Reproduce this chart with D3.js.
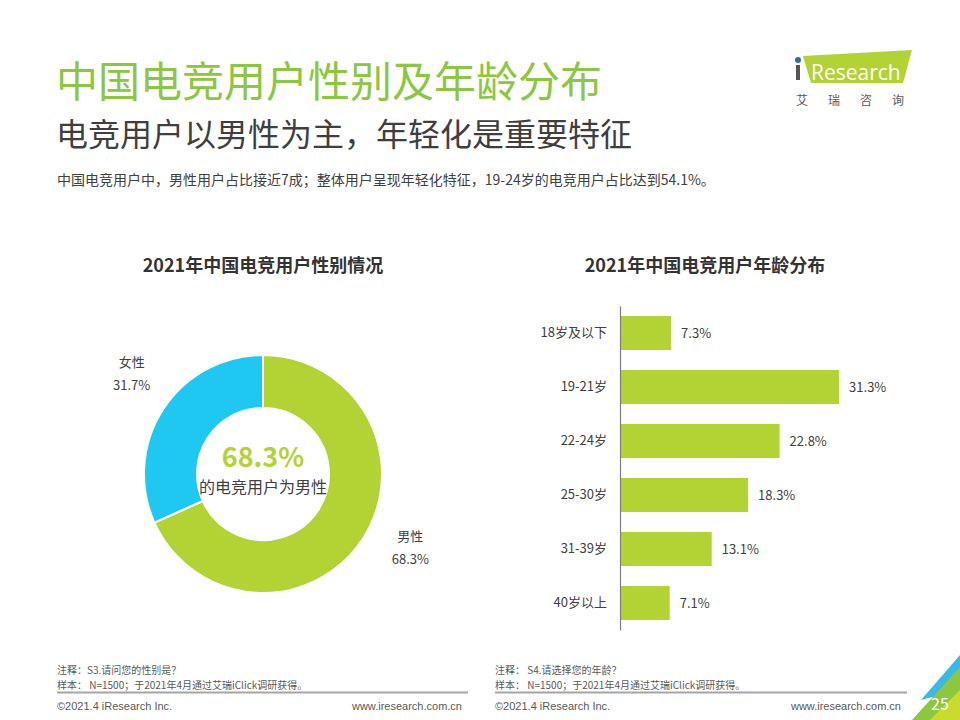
<!DOCTYPE html>
<html>
<head>
<meta charset="utf-8">
<script src="https://cdn.jsdelivr.net/npm/d3@7"></script>
<style>
  body { margin: 0; background: #fff; }
  svg { display: block; font-family: "Noto Sans CJK SC", "Noto Sans", sans-serif; }
</style>
</head>
<body>
<div id="chart"></div>
<script>
// data
var genderLabels = ["男性", "女性"];
var genderValues = [68.3, 31.7];
var ageLabels = ["18岁及以下", "19-21岁", "22-24岁", "25-30岁", "31-39岁", "40岁以上"];
var ageValues = [7.3, 31.3, 22.8, 18.3, 13.1, 7.1];

var width = 960, height = 720;
var green = "#b3d234", blue = "#1fc8f1", titleGreen = "#8dc63f";
var textColor = "#404040", noteColor = "#595959";

var svg = d3.select("#chart")
    .append("svg")
    .attr("width", width)
    .attr("height", height);

// header
svg.append("text")
    .attr("x", 56).attr("y", 97)
    .attr("font-size", 42)
    .attr("fill", titleGreen)
    .text("中国电竞用户性别及年龄分布");

svg.append("text")
    .attr("x", 56).attr("y", 146)
    .attr("font-size", 32)
    .attr("fill", "#3f3f3f")
    .text("电竞用户以男性为主，年轻化是重要特征");

svg.append("text")
    .attr("x", 57).attr("y", 185)
    .attr("font-size", 14)
    .attr("fill", textColor)
    .text("中国电竞用户中，男性用户占比接近7成；整体用户呈现年轻化特征，19-24岁的电竞用户占比达到54.1%。");

// logo
var logo = svg.append("g");
logo.append("polygon")
    .attr("points", "803,56 912,50 903,83 811,83")
    .attr("fill", green);
logo.append("circle")
    .attr("cx", 798).attr("cy", 60).attr("r", 3)
    .attr("fill", "#2a6fb5");
logo.append("rect")
    .attr("x", 796).attr("y", 65).attr("width", 4).attr("height", 15)
    .attr("fill", "#555");
logo.append("text")
    .attr("x", 811).attr("y", 80)
    .attr("font-family", "Open Sans, sans-serif")
    .attr("font-size", 21)
    .attr("fill", "#fff")
    .text("Research");
logo.append("text")
    .attr("x", 796).attr("y", 105)
    .attr("font-size", 12)
    .attr("fill", "#595959")
    .attr("letter-spacing", 20)
    .text("艾瑞咨询");

// chart titles
svg.append("text")
    .attr("x", 263).attr("y", 272)
    .attr("text-anchor", "middle")
    .attr("font-size", 18).attr("font-weight", "bold")
    .attr("fill", "#333")
    .text("2021年中国电竞用户性别情况");

svg.append("text")
    .attr("x", 705).attr("y", 272)
    .attr("text-anchor", "middle")
    .attr("font-size", 18).attr("font-weight", "bold")
    .attr("fill", "#333")
    .text("2021年中国电竞用户年龄分布");

// donut
var genderData = genderLabels.map(function (d, i) { return { label: d, value: genderValues[i] }; });
var pie = d3.pie().sort(null).value(function (d) { return d.value; });
var arc = d3.arc().innerRadius(66).outerRadius(119);
var labelArc = d3.arc().innerRadius(166).outerRadius(166);
var color = d3.scaleOrdinal().domain(genderLabels).range([green, blue]);

var donut = svg.append("g")
    .attr("transform", "translate(263,474)");

donut.selectAll("path")
    .data(pie(genderData))
    .enter()
    .append("path")
    .attr("d", arc)
    .attr("fill", function (d) { return color(d.data.label); })
    .attr("stroke", "#fff")
    .attr("stroke-width", 2);

var lbl = donut.selectAll(".lbl")
    .data(pie(genderData))
    .enter()
    .append("text")
    .attr("class", "lbl")
    .attr("transform", function (d) {
        var c = labelArc.centroid(d);
        return "translate(" + (c[0] + 8) + "," + c[1] + ")";
    })
    .attr("text-anchor", "middle")
    .attr("font-size", 13)
    .attr("fill", textColor);
lbl.append("tspan").attr("x", 0).attr("dy", function (d, i) { return i === 0 ? "-1.8em" : "-1.3em"; })
    .text(function (d) { return d.data.label; });
lbl.append("tspan").attr("x", 0).attr("dy", "1.75em").text(function (d) { return d.data.value.toFixed(1) + "%"; });

donut.append("text")
    .attr("y", -7)
    .attr("text-anchor", "middle")
    .attr("font-size", 27).attr("font-weight", "bold")
    .attr("fill", green)
    .text(genderValues[0].toFixed(1) + "%");
donut.append("text")
    .attr("y", 19)
    .attr("text-anchor", "middle")
    .attr("font-size", 16)
    .attr("fill", textColor)
    .text("的电竞用户为男性");

// bar chart
var x = d3.scaleLinear()
    .domain([0, 35])
    .range([620, 865]);
var y = d3.scaleBand()
    .domain(ageLabels)
    .range([306, 630])
    .paddingInner(0.37)
    .paddingOuter(0.185);

svg.append("g")
    .selectAll("rect")
    .data(ageValues)
    .enter()
    .append("rect")
    .attr("x", x(0))
    .attr("y", function (d, i) { return y(ageLabels[i]); })
    .attr("width", function (d) { return x(d) - x(0); })
    .attr("height", y.bandwidth())
    .attr("fill", green);

svg.append("g")
    .selectAll("text")
    .data(ageValues)
    .enter()
    .append("text")
    .attr("x", function (d) { return x(d) + 10; })
    .attr("y", function (d, i) { return y(ageLabels[i]) + y.bandwidth() / 2; })
    .attr("dy", "0.35em")
    .attr("font-size", 13)
    .attr("fill", textColor)
    .text(function (d) { return d.toFixed(1) + "%"; });

var yAxis = svg.append("g")
    .attr("transform", "translate(620,0)")
    .call(d3.axisLeft(y).tickSize(0).tickPadding(13).tickSizeOuter(0));
yAxis.select(".domain").attr("stroke", "#7f7f7f").attr("stroke-width", 1.2);
yAxis.selectAll("text")
    .attr("font-size", 13)
    .attr("font-family", "Noto Sans CJK SC, sans-serif")
    .attr("fill", textColor);

// footer notes
function notes(x0, x1, q) {
    svg.append("text").attr("x", x0).attr("y", 674)
        .attr("font-size", 10).attr("fill", noteColor).text(q);
    svg.append("text").attr("x", x0).attr("y", 688.5)
        .attr("font-size", 10).attr("fill", noteColor)
        .text("样本： N=1500；于2021年4月通过艾瑞iClick调研获得。");
    svg.append("line")
        .attr("x1", x0).attr("x2", x1).attr("y1", 692.5).attr("y2", 692.5)
        .attr("stroke", "#a6a6a6").attr("stroke-width", 2);
    svg.append("text").attr("x", x0).attr("y", 710)
        .attr("font-size", 11).attr("font-family", "Liberation Sans, sans-serif")
        .attr("fill", noteColor).text("©2021.4 iResearch Inc.");
    svg.append("text").attr("x", x1 - 6).attr("y", 710)
        .attr("text-anchor", "end")
        .attr("font-size", 11).attr("font-family", "Liberation Sans, sans-serif")
        .attr("fill", noteColor).text("www.iresearch.com.cn");
}
notes(57, 468, "注释：S3.请问您的性别是？");
notes(495, 907, "注释： S4.请选择您的年龄？");

// page corner
svg.append("polygon").attr("points", "921,700 960,655 960,690").attr("fill", "#3cb8e8");
svg.append("polygon").attr("points", "912,720 960,667 960,720").attr("fill", "#8dc63f");
svg.append("polygon").attr("points", "930,720 960,690 960,720").attr("fill", "#c8dc2e");
svg.append("text")
    .attr("x", 940).attr("y", 710)
    .attr("text-anchor", "middle")
    .attr("font-size", 16)
    .attr("fill", "#fff")
    .text("25");
</script>
</body>
</html>
